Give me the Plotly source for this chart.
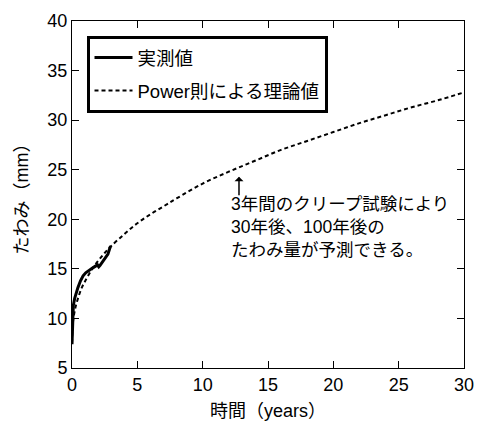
import plotly.graph_objects as go

# measured deflection (years, mm)
meas_t = [0.0, 0.02, 0.05, 0.1, 0.2, 0.3, 0.45, 0.65, 0.85, 1.05, 1.35, 1.65, 1.95, 2.05, 2.15, 2.4, 2.6, 2.75, 2.85, 2.95]
meas_y = [7.4, 9.0, 10.8, 11.3, 12.0, 12.5, 13.1, 13.8, 14.3, 14.6, 14.9, 15.15, 15.4, 15.2, 15.35, 15.8, 16.2, 16.5, 16.9, 17.3]

# Power-law theoretical curve (years, mm)
theo_t = [0, 0.05, 0.1, 0.2, 0.3, 0.5, 0.75, 1, 1.5, 2, 2.5, 3, 4, 5, 6, 7, 8, 10, 12, 14, 16, 18, 20, 22, 24, 26, 28, 30]
theo_y = [7.5, 9.3, 9.9, 10.7, 11.3, 12.2, 13.1, 13.75, 14.9, 15.8, 16.6, 17.3, 18.5, 19.6, 20.5, 21.3, 22.1, 23.6, 24.8, 25.9, 27.0, 27.9, 28.8, 29.7, 30.5, 31.3, 32.0, 32.8]

x_ticks = [0, 5, 10, 15, 20, 25, 30]
y_ticks = [5, 10, 15, 20, 25, 30, 35, 40]

name_meas = "実測値"
name_theo = "Power則による理論値"
note_lines = ["3年間のクリープ試験により", "30年後、100年後の", "たわみ量が予測できる。"]

JP = "Liberation Sans, Arial, Noto Sans CJK JP, sans-serif"

fig = go.Figure()
fig.add_trace(go.Scatter(x=meas_t, y=meas_y, mode="lines", name=name_meas,
                         line=dict(color="black", width=3), legendgroup="a"))
fig.add_trace(go.Scatter(x=theo_t, y=theo_y, mode="lines", name=name_theo,
                         line=dict(color="black", width=2, dash="4px,3px", shape="spline"),
                         legendgroup="b"))

axis_common = dict(showline=True, linecolor="black", linewidth=1, mirror="allticks",
                   ticks="inside", ticklen=7, tickcolor="black", showgrid=False, zeroline=False,
                   tickfont=dict(family=JP, size=18, color="black"))

fig.update_layout(
    width=485, height=428,
    margin=dict(l=72, r=11, t=19, b=56),
    paper_bgcolor="white", plot_bgcolor="white",
    font=dict(family=JP, color="black"),
    xaxis=dict(range=[0, 30], tickvals=x_ticks,
               title=dict(text="時間（years）", font=dict(family=JP, size=18), standoff=10),
               **axis_common),
    yaxis=dict(range=[5, 40], tickvals=y_ticks,
               title=dict(text="たわみ（mm）", font=dict(family=JP, size=18), standoff=14),
               **axis_common),
    legend=dict(x=0.037, y=0.957, xanchor="left", yanchor="top",
                bgcolor="white", bordercolor="black", borderwidth=3,
                font=dict(family=JP, size=18.5, color="black"),
                tracegroupgap=6, traceorder="grouped", itemwidth=38),
    showlegend=True,
)

# small upward arrow pointing at the theoretical curve
fig.add_annotation(x=12.78, y=24.3, xref="x", yref="y", text="", showarrow=True,
                   ax=0, ay=20, arrowhead=1, arrowsize=1, arrowwidth=1.5, arrowcolor="black")
fig.add_annotation(x=12.0, y=19.2, xref="x", yref="y", text="<br>".join(note_lines),
                   showarrow=False, xanchor="left", yanchor="middle", align="left",
                   font=dict(family=JP, size=17.5, color="black"))

fig.write_html("out.html")
